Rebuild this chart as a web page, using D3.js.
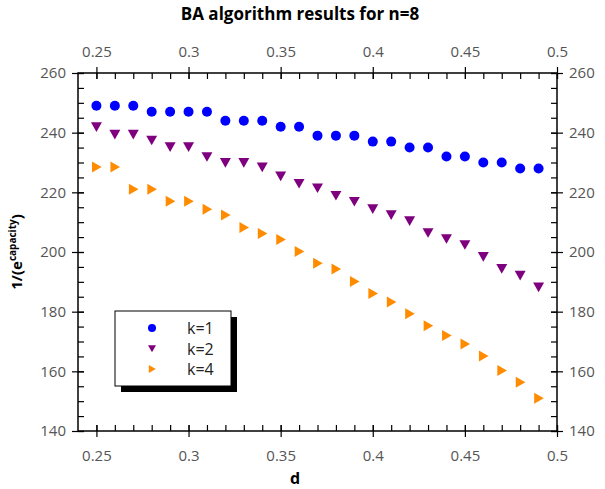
<!DOCTYPE html>
<html>
<head>
<meta charset="utf-8">
<script src="https://cdn.jsdelivr.net/npm/d3@7"></script>
<style>
body{margin:0;background:#fff}
text{font-family:"Open Sans","DejaVu Sans",sans-serif}
</style>
</head>
<body>
<div id="chart"></div>
<script>
var dValues = [0.25,0.26,0.27,0.28,0.29,0.30,0.31,0.32,0.33,0.34,0.35,0.36,0.37,0.38,0.39,0.40,0.41,0.42,0.43,0.44,0.45,0.46,0.47,0.48,0.49]
var k1 = [249,249,249,247,247,247,247,244,244,244,242,242,239,239,239,237,237,235,235,232,232,230,230,228,228]
var k2 = [242,239.5,239.5,237.5,235.3,235.3,232,230,230,228.5,225.5,223,221.5,219,217,214.5,212.5,210.5,206.5,204.5,202.5,198.5,194.5,192.2,188.3]
var k4 = [228.5,228.5,221,221,217,217,214.3,212.4,208.2,206.2,204.2,200.2,196.2,194.3,190.1,186.1,183.2,179.3,175.3,172,169.2,165.1,160.3,156.3,151]
var seriesNames = ['k=1','k=2','k=4']
var xTicks = [0.25,0.3,0.35,0.4,0.45,0.5]
var yTicks = [140,160,180,200,220,240,260]

var width = 605, height = 489
var m = {left:78, right:48, top:73, bottom:58}

var svg = d3.select('#chart').append('svg')
  .attr('width',width).attr('height',height)

var x = d3.scaleLinear().domain([0.24,0.5]).range([m.left,width-m.right])
var y = d3.scaleLinear().domain([140,260]).range([height-m.bottom,m.top])

var series = [
  {name:seriesNames[0], vals:k1, color:'#0000ff', shape:'circle'},
  {name:seriesNames[1], vals:k2, color:'#7f007f', shape:'down'},
  {name:seriesNames[2], vals:k4, color:'#ff8c00', shape:'right'}
]

function marker(sel, shape, s){
  if (shape=='circle'){
    sel.append('circle').attr('r',s)
  } else if (shape=='down'){
    sel.append('path').attr('d','M'+(-s)+','+(-s*0.8)+'L'+s+','+(-s*0.8)+'L0,'+(s*0.95)+'Z')
  } else {
    sel.append('path').attr('d','M'+(-s*0.8)+','+(-s)+'L'+(-s*0.8)+','+s+'L'+(s*0.95)+',0Z')
  }
}

// frame
svg.append('rect')
  .attr('x',m.left).attr('y',m.top)
  .attr('width',width-m.left-m.right).attr('height',height-m.top-m.bottom)
  .attr('fill','none').attr('stroke','#000').attr('stroke-width',1.5)

var minorX = d3.range(25,51).map(function(i){return i/100})
var minorY = d3.range(140,261,5)

function axisStyle(g){
  g.select('.domain').remove()
  g.selectAll('.tick line').attr('stroke','#000').attr('stroke-width',1.2)
  g.selectAll('.tick text').attr('fill','#555').style('font-size','15px')
}

// minor ticks
svg.append('g').attr('transform','translate(0,'+(height-m.bottom)+')')
  .call(d3.axisBottom(x).tickValues(minorX).tickSize(-6).tickFormat('')).call(axisStyle)
svg.append('g').attr('transform','translate(0,'+m.top+')')
  .call(d3.axisTop(x).tickValues(minorX).tickSize(-6).tickFormat('')).call(axisStyle)
svg.append('g').attr('transform','translate('+m.left+',0)')
  .call(d3.axisLeft(y).tickValues(minorY).tickSize(-6).tickFormat('')).call(axisStyle)
svg.append('g').attr('transform','translate('+(width-m.right)+',0)')
  .call(d3.axisRight(y).tickValues(minorY).tickSize(-6).tickFormat('')).call(axisStyle)

// major ticks, crossing the frame
var fmt = function(d){return String(+d.toFixed(2))}
svg.append('g').attr('transform','translate(0,'+(height-m.bottom+6)+')')
  .call(d3.axisBottom(x).tickValues(xTicks).tickSize(-12).tickPadding(13).tickFormat(fmt)).call(axisStyle)
svg.append('g').attr('transform','translate(0,'+(m.top-6)+')')
  .call(d3.axisTop(x).tickValues(xTicks).tickSize(-12).tickPadding(10).tickFormat(fmt)).call(axisStyle)
svg.append('g').attr('transform','translate('+(m.left-6)+',0)')
  .call(d3.axisLeft(y).tickValues(yTicks).tickSize(-12).tickPadding(6)).call(axisStyle)
svg.append('g').attr('transform','translate('+(width-m.right+6)+',0)')
  .call(d3.axisRight(y).tickValues(yTicks).tickSize(-12).tickPadding(6)).call(axisStyle)

// points
series.forEach(function(s){
  svg.append('g').attr('fill',s.color)
    .selectAll('g').data(s.vals).enter().append('g')
    .attr('transform',function(v,i){return 'translate('+x(dValues[i])+','+y(v)+')'})
    .each(function(){marker(d3.select(this), s.shape, s.shape=='circle'?5:5.5)})
})

// title and axis labels
svg.append('text').attr('x',300).attr('y',20).attr('text-anchor','middle')
  .style('font-size','17px').style('font-weight','bold').text('BA algorithm results for n=8')
svg.append('text').attr('x',295).attr('y',484).attr('text-anchor','middle')
  .style('font-size','16px').style('font-weight','bold').text('d')
var yl = svg.append('text').attr('transform','translate(22,252) rotate(-90)')
  .attr('text-anchor','middle').style('font-size','15px').style('font-weight','bold')
yl.append('tspan').text('1/(e')
yl.append('tspan').attr('dy',-6).style('font-size','10px').text('capacity')
yl.append('tspan').attr('dy',6).text(')')

// legend
var lg = svg.append('g').attr('transform','translate(115,311)')
lg.append('rect').attr('x',6).attr('y',6).attr('width',116).attr('height',75).attr('fill','#000')
lg.append('rect').attr('width',116).attr('height',75).attr('fill','#fff').attr('stroke','#000')
series.forEach(function(s,i){
  var row = lg.append('g').attr('transform','translate(0,'+(17+i*20.5)+')')
  var mk = row.append('g').attr('transform','translate(37,0)').attr('fill',s.color)
  marker(mk, s.shape, 4)
  row.append('text').attr('x',72).attr('y',6).style('font-size','16px').attr('fill','#222').text(s.name)
})
</script>
</body>
</html>
